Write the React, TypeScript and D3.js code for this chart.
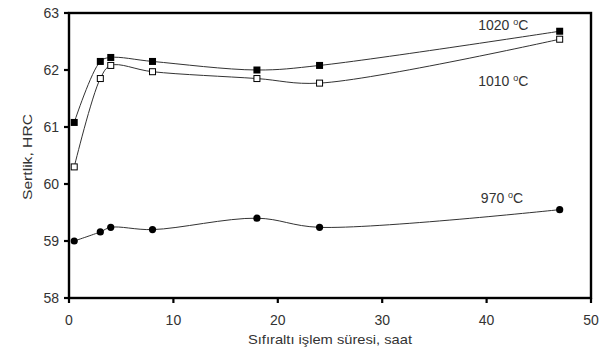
import React from "react";
import * as d3 from "d3";

// hours of sub-zero treatment
const hours = [0.5, 3, 4, 8, 18, 24, 47];
// hardness values (HRC) per austenitizing temperature
const hrc1020 = [61.08, 62.15, 62.22, 62.15, 62.0, 62.08, 62.68];
const hrc1010 = [60.3, 61.85, 62.08, 61.97, 61.85, 61.77, 62.54];
const hrc970 = [59.0, 59.16, 59.24, 59.2, 59.4, 59.24, 59.55];

const xTicks = [0, 10, 20, 30, 40, 50];
const yTicks = [58, 59, 60, 61, 62, 63];

const series = [
  { name: "1020", values: hrc1020, marker: "filledSquare", label: [39.2, 62.79] },
  { name: "1010", values: hrc1010, marker: "openSquare", label: [39.2, 61.8] },
  { name: "970", values: hrc970, marker: "circle", label: [39.45, 59.75] },
];

const App = () => {
  const width = 611;
  const height = 355;
  const marginLeft = 69;
  const marginRight = 20;
  const marginTop = 13;
  const marginBottom = 57;

  const x = d3.scaleLinear().domain([0, 50]).range([marginLeft, width - marginRight]);
  const y = d3.scaleLinear().domain([58, 63]).range([height - marginBottom, marginTop]);

  const line = d3
    .line<number>()
    .x((_, i) => x(hours[i]))
    .y((d) => y(d))
    .curve(d3.curveCatmullRom.alpha(0.5));

  const font = "'Liberation Sans', Arial, sans-serif";
  const textColor = "#333";

  const drawMarker = (kind: string, cx: number, cy: number, key: number) => {
    if (kind === "circle") return <circle key={key} cx={cx} cy={cy} r={3.6} fill="#000" />;
    if (kind === "filledSquare")
      return <rect key={key} x={cx - 3.5} y={cy - 3.5} width={7} height={7} fill="#000" />;
    return (
      <rect key={key} x={cx - 3} y={cy - 3} width={6} height={6} fill="#fff" stroke="#000" strokeWidth={1} />
    );
  };

  return (
    <svg
      width={width}
      height={height}
      style={{ position: "absolute", left: 0, top: 0, background: "#fff" }}
      fontFamily={font}
    >
      {/* plot frame */}
      <rect
        x={marginLeft}
        y={marginTop}
        width={width - marginLeft - marginRight}
        height={height - marginTop - marginBottom}
        fill="none"
        stroke="#000"
        strokeWidth={2.4}
      />

      {/* y axis */}
      {yTicks.map((t) => (
        <g key={t}>
          <line x1={marginLeft - 5} x2={marginLeft} y1={y(t)} y2={y(t)} stroke="#000" strokeWidth={2.2} />
          <text x={marginLeft - 10} y={y(t)} dy="0.35em" textAnchor="end" fontSize={14} fill={textColor}>
            {t}
          </text>
        </g>
      ))}
      <text
        transform={`translate(28,157) rotate(-90)`}
        textAnchor="middle"
        dy="0.35em"
        fontSize={12}
        textLength={86}
        lengthAdjust="spacingAndGlyphs"
        fill={textColor}
      >
        Sertlik, HRC
      </text>

      {/* x axis */}
      {xTicks.map((t) => (
        <g key={t}>
          <line x1={x(t)} x2={x(t)} y1={y(58)} y2={y(58) + 5} stroke="#000" strokeWidth={2.2} />
          <text x={x(t)} y={y(58) + 22} dy="0.35em" textAnchor="middle" fontSize={14} fill={textColor}>
            {t}
          </text>
        </g>
      ))}
      <text
        x={330}
        y={339}
        dy="0.35em"
        textAnchor="middle"
        fontSize={13}
        textLength={164}
        lengthAdjust="spacingAndGlyphs"
        fill={textColor}
      >
        Sıfıraltı işlem süresi, saat
      </text>

      {/* series */}
      {series.map((s) => (
        <g key={s.name}>
          <path d={line(s.values) ?? ""} fill="none" stroke="#333" strokeWidth={1} />
          {s.values.map((v, i) => drawMarker(s.marker, x(hours[i]), y(v), i))}
          <text x={x(s.label[0])} y={y(s.label[1]) + 5} fontSize={14} fill={textColor}>
            {s.name}{" "}
            <tspan fontSize={9} dy={-5}>
              o
            </tspan>
            <tspan dy={5}>C</tspan>
          </text>
        </g>
      ))}
    </svg>
  );
};

export default App;
